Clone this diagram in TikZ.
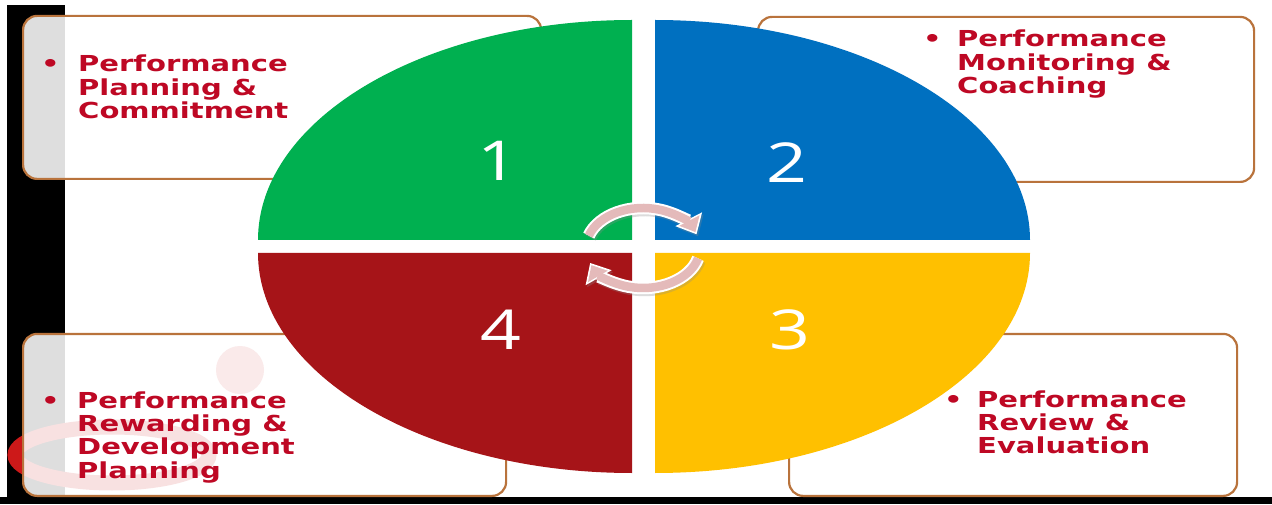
\documentclass[tikz,border=0pt]{standalone}
\usepackage{fontspec}
\usetikzlibrary{arrows.meta}
\newfontfamily\lblfont[FakeStretch=1.32,BoldFont={* Bold}]{DejaVu Sans}
\newfontfamily\numfont[FakeStretch=1.3]{Open Sans}
\definecolor{qgreen}{RGB}{0,176,80}
\definecolor{qblue}{RGB}{0,112,192}
\definecolor{qred}{RGB}{166,20,24}
\definecolor{qyellow}{RGB}{255,192,0}
\definecolor{boxline}{RGB}{185,115,60}
\definecolor{lbl}{RGB}{190,8,36}
\definecolor{arrpink}{RGB}{228,186,186}
\definecolor{logored}{RGB}{205,25,25}
\begin{document}
\begin{tikzpicture}[x=1pt,y=1pt,
  infobox/.style={draw=boxline, line width=2.2pt, fill=white, fill opacity=0.87, rounded corners=14pt, anchor=south west, inner sep=0pt},
  numlbl/.style={text=white, font=\numfont\fontsize{55}{55}\selectfont, inner sep=0pt},
  boxtext/.style={text=lbl, font=\lblfont\bfseries\fontsize{22}{22.5}\selectfont, inner sep=0pt, anchor=base west},
  cycout/.style={draw=white, line width=12.5pt, -{Triangle[length=17pt,width=29pt]}},
  cycin/.style={draw=arrpink, line width=8.5pt, shorten >=2.5pt, -{Triangle[length=13pt,width=22pt]}},
  cycshadow/.style={draw=black!45, opacity=0.3, line width=12.5pt, -{Triangle[length=17pt,width=29pt]}}
]
\useasboundingbox (0,0) rectangle (1272,504);
\fill[white] (0,0) rectangle (1272,504);
% left dark strip and bottom band
\fill[black] (7,0) rectangle (65,499);
\fill[black] (0,0) rectangle (1272,7);
% faint logo behind lower-left box
\begin{scope}
\clip (7,7) rectangle (520,330);
\draw[logored, line width=15pt] (112,49) ellipse [x radius=97, y radius=28];
\fill[logored, opacity=0.7] (240,134) circle [radius=24];
\end{scope}
% info boxes
\node[infobox, minimum width=518pt, minimum height=163pt] (b1) at (22,324) {};
\node[infobox, minimum width=496pt, minimum height=165pt] (b2) at (757,321) {};
\node[infobox, minimum width=448pt, minimum height=162pt] (b3) at (788,7) {};
\node[infobox, minimum width=483pt, minimum height=162pt] (b4) at (22,7) {};
% quadrants
\fill[qgreen] (632,264) -- (258,264) arc[start angle=180,end angle=90,x radius=374,y radius=220] -- cycle;
\fill[qblue] (655,264) -- (1030,264) arc[start angle=0,end angle=90,x radius=375,y radius=220] -- cycle;
\fill[qred] (632,251) -- (258,251) arc[start angle=180,end angle=270,x radius=374,y radius=220] -- cycle;
\fill[qyellow] (655,251) -- (1030,251) arc[start angle=0,end angle=-90,x radius=375,y radius=220] -- cycle;
% numbers
\node[numlbl] (n1) at (498,343) {1};
\node[numlbl] (n2) at (787,341) {2};
\node[numlbl] (n3) at (790,174) {3};
\node[numlbl] (n4) at (501,174) {4};
% texts
\node[boxtext] (t1) at (41,432) {\begin{tabular}[t]{@{}l@{}l@{}}\makebox[37pt][l]{•}&Performance\\&Planning \&\\&Commitment\end{tabular}};
\node[boxtext] (t2) at (923,457) {\begin{tabular}[t]{@{}l@{}l@{}}\makebox[34pt][l]{•}&Performance\\&Monitoring \&\\&Coaching\end{tabular}};
\node[boxtext] (t3) at (944,97) {\begin{tabular}[t]{@{}l@{}l@{}}\makebox[33pt][l]{•}&Performance\\&Review \&\\&Evaluation\end{tabular}};
\node[boxtext] (t4) at (41,96) {\begin{tabular}[t]{@{}l@{}l@{}}\makebox[36pt][l]{•}&Performance\\&Rewarding \&\\&Development\\&Planning\end{tabular}};
% cycle arrows
\coordinate (ctr) at (643,256);
\draw[cycshadow] ([shift={(162:57 and 40)},shift={(1.5,-2)}]ctr) arc[start angle=162,end angle=20,x radius=57,y radius=40];
\draw[cycshadow] ([shift={(-15:57 and 40)},shift={(1.5,-2)}]ctr) arc[start angle=-15,end angle=-158,x radius=57,y radius=40];
\draw[cycout] ([shift={(162:57 and 40)}]ctr) arc[start angle=162,end angle=20,x radius=57,y radius=40];
\draw[cycin] ([shift={(162:57 and 40)}]ctr) arc[start angle=162,end angle=20,x radius=57,y radius=40];
\draw[cycout] ([shift={(-15:57 and 40)}]ctr) arc[start angle=-15,end angle=-158,x radius=57,y radius=40];
\draw[cycin] ([shift={(-15:57 and 40)}]ctr) arc[start angle=-15,end angle=-158,x radius=57,y radius=40];
\end{tikzpicture}
\end{document}
